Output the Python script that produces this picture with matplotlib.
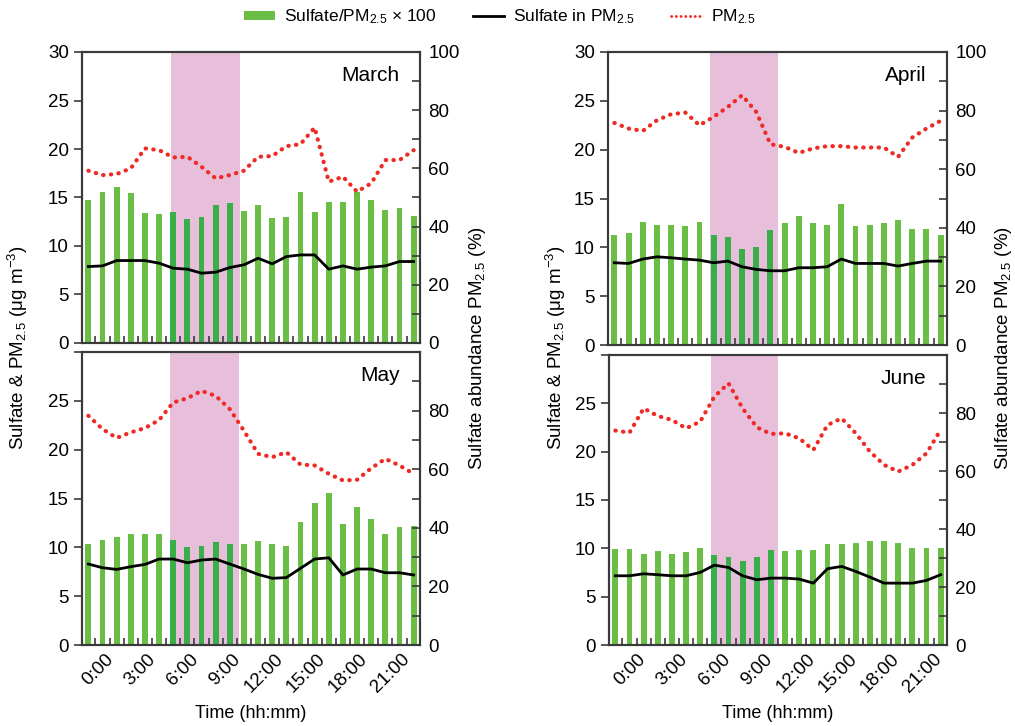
import numpy as np
import matplotlib
matplotlib.use("Agg")
from matplotlib import pyplot as plt
from matplotlib.lines import Line2D
from matplotlib.patches import Patch

plt.rcParams['font.family'] = ['Liberation Sans', 'DejaVu Sans']
plt.rcParams['mathtext.fontset'] = 'custom'
plt.rcParams['mathtext.rm'] = 'Liberation Sans'
plt.rcParams['mathtext.it'] = 'Liberation Sans:italic'

hours = np.arange(24)
tick_hours = [0, 3, 6, 9, 12, 15, 18, 21]
tick_labels = ["0:00", "3:00", "6:00", "9:00", "12:00", "15:00", "18:00", "21:00"]

# Sulfate/PM2.5 x 100 (%)
ratio_mar = [49.1, 51.8, 53.7, 51.4, 44.6, 44.3, 44.9, 42.5, 43.2, 47.3, 48.0, 45.5,
             47.5, 42.9, 43.2, 52.0, 44.9, 48.3, 48.3, 51.8, 49.1, 45.7, 46.3, 43.8]
ratio_apr = [37.7, 38.3, 42.1, 40.8, 40.8, 40.6, 42.1, 37.5, 36.9, 32.8, 33.3, 39.1,
             41.6, 44.1, 41.6, 40.8, 48.1, 40.6, 40.8, 41.6, 42.5, 39.7, 39.7, 37.7]
ratio_may = [34.4, 36.0, 36.9, 37.8, 38.0, 38.0, 36.0, 33.3, 33.9, 35.2, 34.6, 34.6,
             35.6, 34.4, 33.9, 42.0, 48.6, 51.9, 41.4, 47.1, 43.1, 37.8, 40.3, 40.6]
ratio_jun = [33.2, 33.2, 31.5, 32.3, 31.5, 32.0, 33.4, 31.1, 30.3, 28.8, 30.3, 32.8,
             32.3, 32.8, 32.8, 34.9, 34.9, 35.1, 36.0, 35.7, 35.1, 33.4, 33.4, 33.4]

# Sulfate in PM2.5 (ug m-3)
sulf_mar = [7.88, 7.95, 8.50, 8.50, 8.50, 8.23, 7.71, 7.61, 7.20, 7.30, 7.78, 8.06,
            8.74, 8.16, 8.91, 9.08, 9.08, 7.61, 7.95, 7.61, 7.82, 7.95, 8.40, 8.40]
sulf_apr = [8.42, 8.35, 8.80, 9.03, 8.93, 8.80, 8.69, 8.42, 8.59, 8.01, 7.74, 7.60,
            7.60, 7.91, 7.91, 8.01, 8.80, 8.35, 8.35, 8.35, 8.08, 8.35, 8.59, 8.59]
sulf_may = [8.29, 7.91, 7.74, 8.02, 8.25, 8.80, 8.80, 8.42, 8.70, 8.80, 8.29, 7.78,
            7.23, 6.83, 6.90, 7.85, 8.80, 8.93, 7.17, 7.78, 7.78, 7.40, 7.40, 7.17]
sulf_jun = [7.16, 7.16, 7.37, 7.27, 7.16, 7.16, 7.51, 8.26, 8.02, 7.16, 6.75, 6.92,
            6.92, 6.82, 6.40, 7.89, 8.13, 7.61, 7.02, 6.40, 6.40, 6.40, 6.68, 7.27]

# PM2.5 (ug m-3)
pm_mar = [17.76, 17.31, 17.42, 18.00, 20.06, 19.88, 19.13, 19.20, 18.17, 16.97, 17.31, 17.76,
          19.20, 19.27, 20.29, 20.50, 22.21, 16.63, 17.14, 15.60, 16.46, 18.86, 18.86, 19.88]
pm_apr = [22.74, 22.16, 21.92, 23.01, 23.63, 23.80, 22.50, 23.36, 24.38, 25.57, 23.87, 20.56,
          20.29, 19.67, 20.12, 20.36, 20.36, 20.22, 20.22, 20.22, 19.26, 21.24, 22.16, 22.95]
pm_may = [23.47, 22.11, 21.20, 21.77, 22.21, 23.03, 24.83, 25.27, 26.02, 25.51, 24.15, 21.94,
          19.57, 19.23, 19.74, 18.48, 18.38, 17.53, 16.85, 16.92, 18.10, 19.06, 18.38, 17.53]
pm_jun = [22.18, 21.97, 24.48, 23.69, 23.28, 22.42, 23.11, 25.69, 27.07, 24.48, 22.52, 21.83,
          21.90, 21.38, 20.18, 22.76, 23.45, 21.90, 20.01, 18.63, 17.94, 18.63, 19.83, 22.25]

months = ["March", "April", "May", "June"]
ratios = [ratio_mar, ratio_apr, ratio_may, ratio_jun]
sulfs = [sulf_mar, sulf_apr, sulf_may, sulf_jun]
pms = [pm_mar, pm_apr, pm_may, pm_jun]

# shaded period per panel
shades = [(5.83, 10.71), (6.74, 11.5), (5.8, 10.68), (6.74, 11.5)]

GREEN = "#6abd45"
GREEN_DARK = "#3aae49"
PINK = "#e8bfdb"
RED = "#ee2a24"
SPINE = "#3a3a3a"

fig = plt.figure(figsize=(10.15, 7.26), dpi=100)

W = 1015.0
H = 726.0
# left, top, right, bottom in pixels
boxes = [(82, 52, 420, 343), (608, 52, 947, 345),
         (82, 352, 420, 645), (609, 355, 947, 645)]
label_shift = [2.0, 2.35, 2.0, 2.35]

for i, (l, t, r, b) in enumerate(boxes):
    ax2 = fig.add_axes([l / W, 1 - b / H, (r - l) / W, (b - t) / H])
    ax = ax2.twinx()
    # left axis on the front, bars on the back axis
    ax.yaxis.tick_left()
    ax.yaxis.set_label_position("left")
    ax2.yaxis.tick_right()
    ax2.yaxis.set_label_position("right")

    s0, s1 = shades[i]
    ax2.axvspan(s0, s1, color=PINK, lw=0, zorder=0)
    cols = [GREEN_DARK if s0 < h < s1 else GREEN for h in hours]
    ax2.bar(hours, ratios[i], width=0.42, color=cols, zorder=1)
    ax2.set_ylim(0, 100)
    ax2.set_yticks(np.arange(0, 101, 10))
    lbl = [str(v) if v % 20 == 0 else "" for v in range(0, 101, 10)]
    if i >= 2:
        lbl[-1] = ""
    ax2.set_yticklabels(lbl)
    ax2.tick_params(axis="y", direction="in", length=6, width=1.2, color=SPINE,
                    labelsize=13.5, pad=6, right=True, left=False)

    ax.plot(hours, sulfs[i], color="black", lw=2)
    ax.plot(hours, pms[i], color=RED, lw=3, linestyle=(0, (0.1, 1.75)),
            dash_capstyle="round")
    ax.set_ylim(0, 30)
    ax.set_yticks(np.arange(0, 31, 5))
    if i >= 2:
        ax.set_yticklabels(["0", "5", "10", "15", "20", "25", ""])
    ax.tick_params(axis="y", direction="out", length=6, width=1.2, color=SPINE,
                   labelsize=13.5, left=True, right=False)

    ax2.set_xlim(-0.45, 23.45)
    ax2.set_xticks(hours[:-1] + 0.5, minor=True)
    ax2.tick_params(axis="x", which="minor", direction="in", length=5, width=1.2, color=SPINE)
    ax2.set_xticks([h + label_shift[i] for h in tick_hours])
    if i >= 2:
        ax2.set_xticklabels(tick_labels, rotation=45, ha="right", fontsize=13.5)
        fig.text((l + r) / 2 / W, 1 - 714 / H, "Time (hh:mm)", ha="center", va="center",
                 fontsize=13)
    else:
        ax2.set_xticklabels([])
    ax2.tick_params(axis="x", which="major", length=0, pad=4)

    for a in (ax, ax2):
        for s in a.spines.values():
            s.set_color(SPINE)
            s.set_linewidth(1.5)

    ax.text(0.94, 0.92, months[i], transform=ax.transAxes, ha="right", va="center",
            fontsize=15)

# axis titles
for xl, xr in [(18, 478), (556, 1003)]:
    fig.text(xl / W, 1 - 348 / H, "Sulfate & PM$_{2.5}$ (μg m$^{-3}$)", rotation=90,
             ha="center", va="center", fontsize=13.5)
    fig.text(xr / W, 1 - 348 / H, "Sulfate abundance PM$_{2.5}$ (%)", rotation=90,
             ha="center", va="center", fontsize=13.5)

handles = [Patch(facecolor=GREEN, edgecolor="none"),
           Line2D([], [], color="black", lw=2),
           Line2D([], [], color=RED, lw=2, linestyle=(0, (0.1, 1.6)), dash_capstyle="round")]
labels = ["Sulfate/PM$_{2.5}$ × 100", "Sulfate in PM$_{2.5}$", "PM$_{2.5}$"]
fig.legend(handles, labels, loc="center", bbox_to_anchor=(500 / W, 1 - 17 / H), ncol=3,
           frameon=False, fontsize=12.5, handlelength=1.8, handleheight=0.45,
           columnspacing=2.1, handletextpad=0.5)

fig.savefig("out.png", dpi=100)
